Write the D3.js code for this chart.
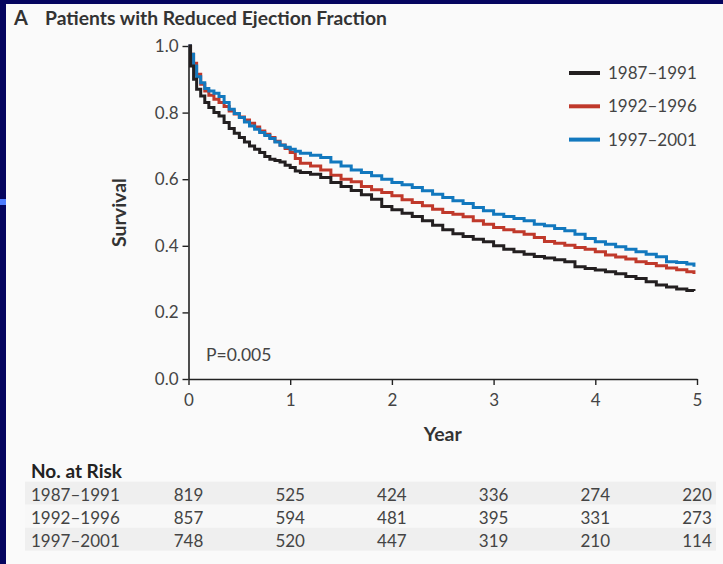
<!DOCTYPE html>
<html lang="en">
<head>
<meta charset="utf-8">
<title>Patients with Reduced Ejection Fraction</title>
<script src="https://cdn.jsdelivr.net/npm/d3@7"></script>
<style>
  body { margin: 0; background: #05055f; }
  svg { display: block; }
  text { font-family: Lato, "Open Sans", sans-serif; }
</style>
</head>
<body>
<script>

// Kaplan-Meier survival (years since diagnosis)
var times = [0, 0.02, 0.05, 0.08, 0.12, 0.16, 0.2, 0.25, 0.3, 0.35, 0.4, 0.45, 0.5, 0.55, 0.6, 0.65, 0.7, 0.75, 0.8, 0.85, 0.9, 0.95,
             1.0, 1.05, 1.1, 1.2, 1.3, 1.4, 1.5, 1.6, 1.7, 1.8, 1.9, 2.0, 2.1, 2.2, 2.3, 2.4, 2.5, 2.6, 2.7, 2.8, 2.9,
             3.0, 3.1, 3.2, 3.3, 3.4, 3.5, 3.6, 3.7, 3.8, 3.9, 4.0, 4.1, 4.2, 4.3, 4.4, 4.5, 4.6, 4.7, 4.8, 4.9, 4.97];

var surv8791 = [1.0, 0.94, 0.90, 0.87, 0.85, 0.83, 0.815, 0.80, 0.79, 0.77, 0.752, 0.738, 0.725, 0.712, 0.70, 0.69, 0.68, 0.668, 0.66, 0.656, 0.652, 0.642,
                0.635, 0.625, 0.62, 0.615, 0.605, 0.59, 0.578, 0.566, 0.553, 0.54, 0.518, 0.508, 0.498, 0.488, 0.475, 0.462, 0.448, 0.436, 0.428, 0.42, 0.412,
                0.40, 0.39, 0.382, 0.375, 0.368, 0.363, 0.358, 0.352, 0.337, 0.332, 0.327, 0.322, 0.316, 0.308, 0.302, 0.292, 0.282, 0.276, 0.27, 0.266, 0.264];

var surv9296 = [1.0, 0.975, 0.948, 0.915, 0.885, 0.865, 0.852, 0.84, 0.83, 0.818, 0.805, 0.796, 0.787, 0.778, 0.768, 0.757, 0.745, 0.735, 0.725, 0.714, 0.703, 0.692,
                0.68, 0.662, 0.648, 0.64, 0.628, 0.612, 0.60, 0.592, 0.578, 0.568, 0.56, 0.55, 0.538, 0.53, 0.52, 0.51, 0.50, 0.495, 0.487, 0.475, 0.465,
                0.455, 0.448, 0.442, 0.435, 0.425, 0.413, 0.408, 0.402, 0.395, 0.39, 0.382, 0.372, 0.366, 0.36, 0.352, 0.347, 0.34, 0.333, 0.328, 0.322, 0.315];

var surv9701 = [1.0, 0.975, 0.94, 0.908, 0.89, 0.872, 0.865, 0.858, 0.848, 0.83, 0.81, 0.797, 0.785, 0.772, 0.76, 0.75, 0.74, 0.731, 0.722, 0.712, 0.702, 0.696,
                0.69, 0.684, 0.678, 0.672, 0.665, 0.652, 0.64, 0.628, 0.62, 0.61, 0.60, 0.59, 0.583, 0.575, 0.565, 0.555, 0.545, 0.535, 0.527, 0.515, 0.505,
                0.495, 0.488, 0.482, 0.475, 0.465, 0.46, 0.452, 0.445, 0.435, 0.422, 0.412, 0.405, 0.397, 0.39, 0.382, 0.375, 0.367, 0.352, 0.35, 0.345, 0.337];

var groups = ["1987\u20131991", "1992\u20131996", "1997\u20132001"];
var colors = ["#231f20", "#c0392b", "#1278be"];

// numbers at risk, one list per group, at years 0..5
var riskYears = [0, 1, 2, 3, 4, 5];
var risk8791 = [819, 525, 424, 336, 274, 220];
var risk9296 = [857, 594, 481, 395, 331, 273];
var risk9701 = [748, 520, 447, 319, 210, 114];

var yTicks = [0, 0.2, 0.4, 0.6, 0.8, 1.0];

var W = 723, H = 564;

var svg = d3.select("body").append("svg")
  .attr("width", W)
  .attr("height", H);

// navy frame + light panel
svg.append("rect").attr("width", W).attr("height", H).attr("fill", "#05055f");
svg.append("rect").attr("x", 0).attr("y", 199).attr("width", 6).attr("height", 6).attr("fill", "#4d7cff");
svg.append("rect").attr("x", 6).attr("y", 4).attr("width", W - 6).attr("height", H - 4).attr("fill", "#fafafa");

// title
svg.append("text").attr("x", 14).attr("y", 25)
  .attr("font-size", "20px").attr("font-weight", 700).attr("fill", "#333")
  .text("A");
svg.append("text").attr("x", 45).attr("y", 25)
  .attr("font-size", "19.3px").attr("font-weight", 700).attr("fill", "#333")
  .text("Patients with Reduced Ejection Fraction");

var x = d3.scaleLinear().domain([0, 5]).range([188.5, 697]);
var y = d3.scaleLinear().domain([0, 1]).range([379, 46]);

// axes
var yAxis = svg.append("g")
  .attr("transform", "translate(" + x(0) + ",0)")
  .call(d3.axisLeft(y).tickValues(yTicks).tickFormat(d3.format(".1f")).tickSize(6).tickPadding(4).tickSizeOuter(0));

var xAxis = svg.append("g")
  .attr("transform", "translate(0," + y(0) + ")")
  .call(d3.axisBottom(x).tickValues(riskYears).tickFormat(d3.format("d")).tickSize(6).tickPadding(9).tickSizeOuter(0));

[yAxis, xAxis].forEach(function(a) {
  a.select(".domain").attr("stroke", "#222").attr("stroke-width", 1.6);
  a.selectAll(".tick line").attr("stroke", "#222").attr("stroke-width", 1.4);
  a.selectAll(".tick text").attr("fill", "#444").attr("font-size", "17px")
    .attr("font-family", "Lato, sans-serif");
});

// axis titles
svg.append("text")
  .attr("transform", "translate(126," + (y(0.5)) + ") rotate(-90)")
  .attr("text-anchor", "middle")
  .attr("font-size", "19.5px").attr("font-weight", 700).attr("fill", "#333")
  .text("Survival");

svg.append("text")
  .attr("x", (x(0) + x(5)) / 2).attr("y", 441)
  .attr("text-anchor", "middle")
  .attr("font-size", "19.5px").attr("font-weight", 700).attr("fill", "#333")
  .text("Year");

// survival curves
var series = [surv8791, surv9296, surv9701];
var line = d3.line()
  .x(function(d) { return x(d[0]); })
  .y(function(d) { return y(d[1]); })
  .curve(d3.curveStepAfter);

// draw oldest last so it sits on top at the start, like the original
[1, 2, 0].forEach(function(k) {
  svg.append("path")
    .datum(times.map(function(t, i) { return [t, series[k][i]]; }))
    .attr("fill", "none")
    .attr("stroke", colors[k])
    .attr("stroke-width", 3)
    .attr("d", line);
});

// legend
groups.forEach(function(g, i) {
  var ly = 73 + i * 33.3;
  svg.append("line")
    .attr("x1", 569).attr("x2", 600)
    .attr("y1", ly).attr("y2", ly)
    .attr("stroke", colors[i]).attr("stroke-width", 4);
  svg.append("text")
    .attr("x", 608).attr("y", ly + 6)
    .attr("font-size", "17px").attr("fill", "#444")
    .text(g);
});

// p value
svg.append("text")
  .attr("x", 206).attr("y", 361)
  .attr("font-size", "17.5px").attr("fill", "#444")
  .text("P=0.005");

// numbers at risk
svg.append("text")
  .attr("x", 31).attr("y", 478)
  .attr("font-size", "19px").attr("font-weight", 700).attr("fill", "#222")
  .text("No. at Risk");

var riskRows = [risk8791, risk9296, risk9701];
var bandFill = ["#efefef", "#f8f8f8", "#efefef"];

riskRows.forEach(function(row, i) {
  var top = 481.7 + i * 23;
  svg.append("rect")
    .attr("x", 25).attr("y", top)
    .attr("width", 691).attr("height", 23)
    .attr("fill", bandFill[i]);
  svg.append("text")
    .attr("x", 31).attr("y", top + 19.5)
    .attr("font-size", "17px").attr("fill", "#444")
    .text(groups[i]);
  svg.selectAll(null)
    .data(row)
    .enter()
    .append("text")
    .attr("x", function(d, j) { return x(riskYears[j]); })
    .attr("y", top + 19.5)
    .attr("text-anchor", "middle")
    .attr("font-size", "17px").attr("fill", "#444")
    .text(function(d) { return d; });
});

</script>
</body>
</html>
